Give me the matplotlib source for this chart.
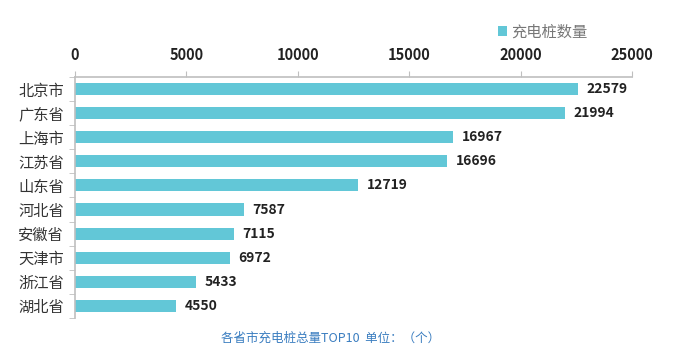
import matplotlib
matplotlib.use('Agg')
import matplotlib.pyplot as plt
import numpy as np

plt.rcParams['font.family'] = ['Noto Sans CJK SC', 'DejaVu Sans']

provinces = ['北京市', '广东省', '上海市', '江苏省', '山东省',
             '河北省', '安徽省', '天津市', '浙江省', '湖北省']
counts = [22579, 21994, 16967, 16696, 12719, 7587, 7115, 6972, 5433, 4550]
x_ticks = [0, 5000, 10000, 15000, 20000, 25000]

bar_color = '#62c7d7'
axis_color = '#bfbfbf'

fig = plt.figure(figsize=(6.82, 3.62), dpi=100)
ax = fig.add_axes([0.11, 0.122, 0.817, 0.665])

y = np.arange(len(provinces))
rects = ax.barh(y, counts, height=0.5, color=bar_color, label='充电桩数量')

ax.set_xlim(0, 25000)
ax.set_ylim(len(provinces) - 0.5, -0.5)
ax.xaxis.tick_top()
ax.set_xticks(x_ticks)
ax.set_xticklabels([str(t) for t in x_ticks], fontsize=10.5, fontweight='bold', color='#222222')
ax.tick_params(axis='x', direction='out', length=4, color=axis_color, pad=6)

ax.set_yticks(y)
ax.set_yticklabels(provinces, fontsize=11, color='#333333')
ax.set_yticks(np.arange(len(provinces) + 1) - 0.5, minor=True)
ax.tick_params(axis='y', which='major', length=0, pad=8)
ax.tick_params(axis='y', which='minor', direction='out', length=4, color=axis_color)

for side in ['right', 'bottom']:
    ax.spines[side].set_visible(False)
for side in ['top', 'left']:
    ax.spines[side].set_color(axis_color)
    ax.spines[side].set_linewidth(1.2)

for rect in rects:
    w = rect.get_width()
    ax.annotate('{}'.format(int(w)),
                xy=(w, rect.get_y() + rect.get_height() / 2),
                xytext=(6, 0), textcoords='offset points',
                ha='left', va='center', fontsize=10, fontweight='bold', color='#222222')

ax.legend(loc='lower left', bbox_to_anchor=(0.745, 1.12), frameon=False,
          fontsize=11, labelcolor='#777777', handlelength=0.6, handleheight=0.6,
          handletextpad=0.3, borderpad=0)

fig.text(0.485, 0.065, '各省市充电桩总量TOP10  单位：（个）', ha='center', va='center',
         fontsize=9, color='#3a7dc0')

fig.savefig('out.png', dpi=100)
